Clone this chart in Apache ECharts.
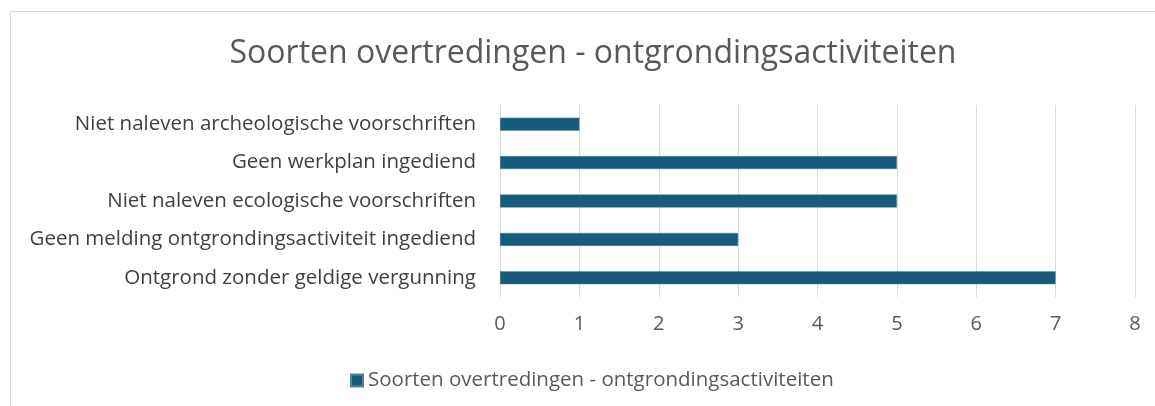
<!DOCTYPE html>
<html>
<head>
<meta charset="utf-8">
<script src="https://cdn.jsdelivr.net/npm/echarts@6/dist/echarts.min.js"></script>
<style>
html,body{margin:0;padding:0;background:#fff;}
#c{width:1155px;height:406px;}
</style>
</head>
<body>
<div id="c"></div>
<script>
const titleText = "Soorten overtredingen - ontgrondingsactiviteiten";
const seriesName = "Soorten overtredingen - ontgrondingsactiviteiten";
const categories = [
  "Niet naleven archeologische voorschriften",
  "Geen werkplan ingediend",
  "Niet naleven ecologische voorschriften",
  "Geen melding ontgrondingsactiviteit ingediend",
  "Ontgrond zonder geldige vergunning"
];
const values = [1, 5, 5, 3, 7];
const xMin = 0, xMax = 8, xStep = 1;

const chart = echarts.init(document.getElementById('c'));
const font = '"Open Sans", "Noto Sans", sans-serif';
chart.setOption({
  animation: false,
  textStyle: { fontFamily: font },
  graphic: [{
    type: 'rect',
    shape: { x: 10.5, y: 11.5, width: 1160, height: 420 },
    style: { fill: 'none', stroke: '#d9d9d9', lineWidth: 1 },
    silent: true
  }],
  title: {
    text: titleText,
    left: 588, top: 33,
    textAlign: 'center',
    textStyle: { fontFamily: font, fontSize: 32, fontWeight: 'normal', color: '#595959' }
  },
  legend: {
    data: [seriesName],
    left: 345, top: 365,
    icon: 'rect', itemWidth: 12, itemHeight: 12, itemGap: 8,
    textStyle: { fontFamily: font, fontSize: 20.5, color: '#595959' }
  },
  grid: { left: 500, right: 20, top: 105, height: 192, containLabel: false },
  xAxis: {
    type: 'value', min: xMin, max: xMax, interval: xStep,
    axisLine: { show: false }, axisTick: { show: false },
    splitLine: { lineStyle: { color: '#d9d9d9', width: 1 } },
    axisLabel: { fontFamily: font, fontSize: 20, color: '#595959', margin: 17 }
  },
  yAxis: {
    type: 'category', data: categories, inverse: true,
    axisLine: { show: false }, axisTick: { show: false },
    axisLabel: { fontFamily: font, fontSize: 20.5, color: '#404040', margin: 24 }
  },
  series: [{
    name: seriesName, type: 'bar', data: values,
    barWidth: 13,
    itemStyle: { color: '#165a7c', borderColor: '#4a84a0', borderWidth: 0.5 }
  }]
});
</script>
</body>
</html>
